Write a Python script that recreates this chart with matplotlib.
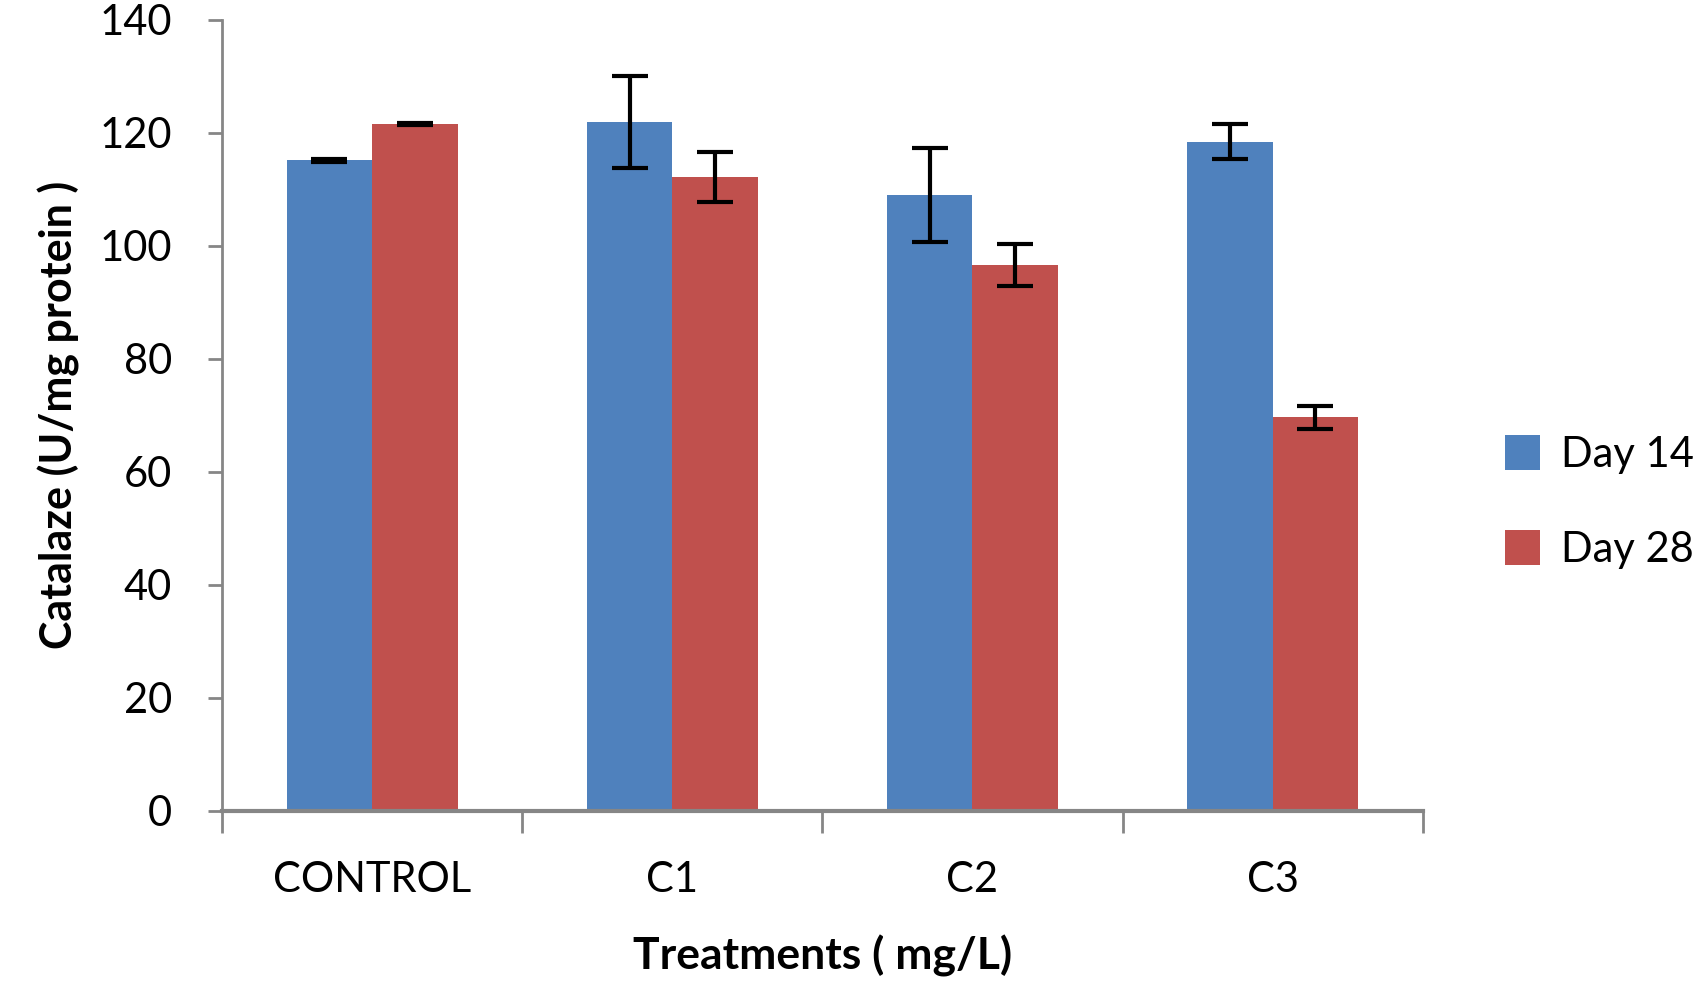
import numpy as np
import matplotlib.pyplot as plt
from matplotlib.ticker import MultipleLocator

plt.rcParams['font.family'] = ['Lato', 'DejaVu Sans']

# data
categories = ["CONTROL", "C1", "C2", "C3"]
day14 = [115.1, 121.9, 109.0, 118.4]
day14_err = [0.3, 8.2, 8.3, 3.1]
day28 = [121.5, 112.2, 96.6, 69.6]
day28_err = [0.2, 4.4, 3.7, 2.0]

blue = "#4F81BD"
red = "#C0504D"
grey = "#868686"

fig = plt.figure(figsize=(17.08, 9.85), dpi=100)
ax = fig.add_axes([0.130, 0.177, 0.703, 0.803])

x = np.arange(len(categories))
w = 0.285
errkw = dict(ecolor="black", elinewidth=3, capsize=13, capthick=3)
ax.bar(x - w / 2, day14, w, yerr=day14_err, color=blue, label="Day 14", error_kw=errkw)
ax.bar(x + w / 2, day28, w, yerr=day28_err, color=red, label="Day 28", error_kw=errkw)

ax.set_xlim(-0.5, len(categories) - 0.5)
ax.set_ylim(0, 140)
ax.yaxis.set_major_locator(MultipleLocator(20))

# category ticks sit between groups, labels at centres
ax.set_xticks(np.arange(-0.5, len(categories)), minor=False)
ax.set_xticklabels([])
ax.set_xticks(x, minor=True)
ax.set_xticklabels(categories, minor=True)
ax.tick_params(axis="x", which="major", length=16, width=2, color=grey, direction="out")
ax.tick_params(axis="x", which="minor", length=0, labelsize=30, pad=36)
ax.tick_params(axis="y", length=10, width=2, color=grey, labelsize=30, pad=26)

for s in ["top", "right"]:
    ax.spines[s].set_visible(False)
ax.spines["left"].set_color(grey)
ax.spines["left"].set_linewidth(2)
ax.spines["bottom"].set_color(grey)
ax.spines["bottom"].set_linewidth(3)

ax.set_xlabel("Treatments ( mg/L)", fontsize=32, fontweight="bold", labelpad=26)
ax.set_ylabel("Catalaze (U/mg protein )", fontsize=31, fontweight="bold", labelpad=14)

ax.legend(loc="center left", bbox_to_anchor=(1.037, 0.39), frameon=False, fontsize=30,
          handlelength=0.85, handleheight=0.9, labelspacing=1.35, handletextpad=0.5)

fig.savefig("out.png", dpi=100)
